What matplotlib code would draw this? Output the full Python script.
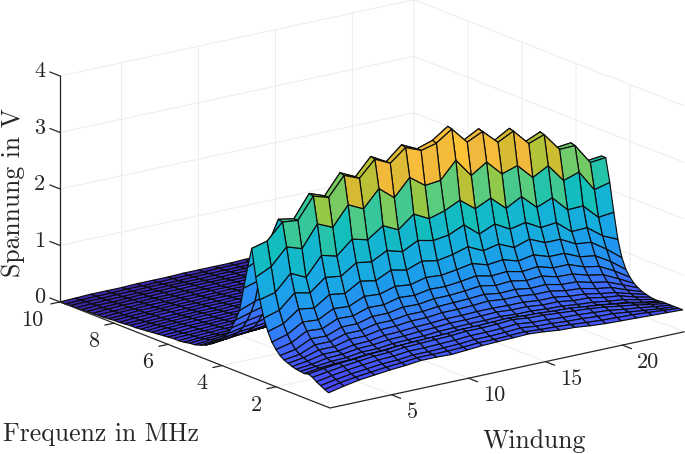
#!/usr/bin/env python3
"""Spannung ueber Windung und Frequenz als Flaechenplot"""

import numpy as np
import matplotlib

matplotlib.use("Agg")
import matplotlib.pyplot as plt
from matplotlib.colors import LinearSegmentedColormap, Normalize
from mpl_toolkits.mplot3d import proj3d

windung = list(range(1, 25))

freq_mhz = [0.05, 0.2, 0.35, 0.5, 0.65, 0.8, 0.95, 1.1, 1.25, 1.4, 1.55, 1.7, 1.85, 2.0, 2.15, 2.3, 2.45, 2.6, 2.75, 2.9,
            3.05, 3.2, 3.35, 3.5, 3.65, 3.8, 3.95,
            4.2, 4.4, 4.6, 4.8, 5.0, 5.2, 5.4, 5.6, 5.8, 6.0, 6.2, 6.4, 6.6, 6.8, 7.0, 7.2, 7.4, 7.6, 7.8,
            8.0, 8.2, 8.4, 8.6, 8.8, 9.0, 9.2, 9.4, 9.6, 9.8, 10.0]

# Spannung in cV, eine Zeile je Frequenz, eine Spalte je Windung
spannung_cv = [
    [26, 32, 37, 40, 43, 45, 48, 48, 47, 49, 51, 52, 53, 54, 52, 49, 48, 45, 43, 42, 41, 40, 39, 38],
    [29, 35, 39, 42, 45, 47, 50, 50, 50, 51, 53, 53, 54, 55, 53, 52, 50, 48, 46, 45, 44, 42, 40, 38],
    [33, 38, 42, 45, 48, 49, 52, 52, 53, 54, 56, 56, 57, 59, 56, 55, 53, 52, 50, 49, 46, 43, 40, 38],
    [37, 42, 46, 49, 52, 53, 56, 56, 57, 58, 60, 60, 61, 63, 60, 59, 57, 56, 54, 52, 48, 45, 41, 38],
    [42, 46, 50, 53, 56, 57, 60, 61, 62, 63, 65, 65, 66, 68, 65, 64, 62, 60, 58, 55, 51, 47, 42, 38],
    [45, 49, 52, 54, 57, 58, 61, 62, 63, 64, 66, 66, 67, 68, 66, 65, 63, 62, 59, 56, 52, 48, 42, 38],
    [43, 47, 49, 50, 53, 54, 56, 57, 58, 59, 60, 61, 61, 62, 61, 60, 58, 58, 54, 53, 49, 46, 40, 37],
    [44, 47, 50, 51, 55, 55, 58, 59, 60, 62, 63, 64, 64, 65, 63, 63, 61, 60, 57, 55, 51, 48, 42, 37],
    [45, 48, 53, 54, 58, 59, 62, 63, 65, 66, 68, 68, 69, 70, 68, 68, 65, 65, 61, 60, 55, 52, 44, 38],
    [47, 51, 57, 57, 62, 63, 67, 68, 70, 71, 73, 73, 74, 74, 73, 73, 70, 70, 66, 64, 59, 55, 47, 40],
    [50, 54, 62, 62, 69, 69, 74, 75, 78, 78, 81, 81, 82, 84, 81, 81, 78, 78, 73, 71, 65, 61, 51, 42],
    [53, 57, 68, 68, 76, 76, 82, 82, 86, 86, 89, 90, 91, 93, 89, 90, 86, 87, 81, 80, 73, 68, 57, 46],
    [58, 63, 76, 75, 85, 85, 92, 92, 97, 96, 100, 100, 102, 105, 100, 102, 97, 99, 92, 91, 83, 78, 65, 51],
    [66, 72, 87, 85, 97, 96, 105, 104, 111, 109, 114, 113, 116, 120, 114, 116, 110, 113, 105, 105, 95, 90, 76, 59],
    [76, 84, 100, 98, 112, 110, 122, 120, 128, 125, 132, 130, 134, 139, 131, 134, 126, 131, 122, 122, 110, 106, 90, 70],
    [92, 100, 120, 116, 134, 130, 146, 141, 154, 148, 158, 153, 158, 166, 153, 159, 147, 156, 144, 144, 130, 127, 109, 88],
    [113, 121, 146, 140, 162, 158, 176, 172, 186, 178, 192, 186, 190, 202, 180, 192, 177, 183, 168, 171, 149, 150, 130, 118],
    [143, 150, 178, 165, 198, 191, 215, 208, 227, 214, 236, 222, 230, 243, 222, 235, 211, 226, 201, 212, 185, 186, 160, 163],
    [180, 193, 222, 213, 251, 239, 273, 260, 290, 268, 298, 278, 281, 311, 278, 296, 269, 278, 251, 266, 234, 243, 206, 213],
    [228, 235, 263, 260, 297, 289, 322, 311, 339, 326, 348, 337, 344, 363, 334, 347, 322, 336, 308, 318, 286, 287, 251, 254],
    [192, 205, 265, 260, 299, 289, 324, 311, 341, 326, 350, 337, 346, 365, 334, 349, 322, 338, 308, 320, 286, 289, 251, 254],
    [152, 160, 178, 190, 200, 205, 220, 225, 240, 235, 250, 245, 250, 260, 245, 250, 235, 240, 220, 225, 200, 195, 170, 170],
    [110, 120, 130, 140, 150, 155, 165, 170, 180, 180, 190, 190, 190, 200, 190, 190, 180, 185, 170, 170, 150, 145, 125, 125],
    [90, 98, 105, 115, 120, 125, 130, 135, 140, 140, 148, 148, 150, 155, 148, 148, 140, 142, 130, 130, 118, 112, 98, 95],
    [73, 80, 85, 92, 95, 100, 105, 108, 112, 112, 118, 118, 120, 122, 118, 118, 112, 112, 104, 102, 94, 90, 78, 76],
    [60, 66, 70, 76, 78, 82, 86, 88, 92, 92, 96, 96, 98, 100, 96, 96, 92, 92, 86, 84, 78, 74, 64, 62],
    [50, 55, 58, 62, 65, 68, 70, 72, 75, 76, 78, 78, 80, 82, 78, 78, 76, 76, 70, 68, 64, 60, 54, 52],
    [38, 42, 45, 48, 50, 52, 54, 56, 58, 58, 60, 60, 62, 62, 60, 60, 58, 58, 54, 52, 50, 48, 44, 42],
    [31, 34, 37, 39, 41, 43, 44, 46, 47, 48, 49, 49, 50, 51, 50, 49, 48, 47, 45, 44, 42, 40, 37, 35],
    [25, 28, 31, 33, 34, 36, 37, 38, 39, 40, 41, 41, 42, 42, 41, 41, 40, 39, 37, 36, 35, 33, 31, 29],
    [21, 24, 26, 28, 29, 30, 31, 33, 33, 34, 35, 35, 36, 36, 35, 35, 34, 33, 32, 31, 30, 28, 26, 25],
    [18, 21, 23, 24, 25, 26, 27, 28, 29, 29, 30, 30, 31, 31, 30, 30, 29, 29, 28, 27, 26, 24, 23, 22],
    [17, 19, 20, 22, 22, 24, 24, 25, 26, 26, 27, 27, 28, 28, 27, 27, 26, 26, 25, 24, 23, 22, 20, 19],
    [15, 17, 18, 19, 20, 21, 22, 23, 23, 24, 24, 25, 25, 25, 25, 24, 24, 23, 22, 22, 21, 20, 18, 17],
    [14, 16, 17, 18, 19, 20, 20, 21, 22, 22, 23, 23, 23, 24, 23, 23, 22, 22, 21, 20, 19, 18, 17, 16],
    [14, 15, 16, 17, 18, 19, 19, 20, 20, 21, 21, 22, 22, 22, 21, 21, 21, 20, 20, 19, 18, 17, 16, 15],
    [13, 14, 15, 16, 17, 17, 18, 19, 19, 20, 20, 20, 20, 21, 20, 20, 20, 19, 18, 18, 17, 16, 15, 14],
    [12, 13, 15, 15, 16, 17, 17, 18, 18, 19, 19, 19, 20, 20, 19, 19, 18, 18, 18, 17, 16, 15, 14, 13],
    [11, 13, 14, 14, 15, 16, 16, 17, 17, 18, 18, 18, 19, 19, 18, 18, 18, 17, 17, 16, 15, 15, 14, 13],
    [10, 12, 13, 14, 14, 15, 15, 16, 16, 17, 17, 17, 18, 18, 17, 17, 17, 16, 16, 15, 15, 14, 13, 12],
    [9, 11, 12, 13, 14, 14, 15, 15, 15, 16, 16, 16, 17, 17, 16, 16, 16, 15, 15, 15, 14, 13, 13, 12],
    [8, 10, 11, 12, 13, 13, 14, 14, 14, 15, 15, 16, 16, 16, 15, 15, 15, 15, 14, 14, 13, 13, 12, 11],
    [7, 9, 10, 11, 12, 12, 13, 13, 14, 14, 14, 15, 15, 15, 15, 14, 14, 14, 14, 13, 13, 12, 11, 11],
    [7, 8, 9, 10, 11, 12, 12, 13, 13, 13, 14, 14, 14, 14, 14, 14, 13, 13, 13, 13, 12, 12, 11, 10],
    [6, 7, 9, 10, 10, 11, 11, 12, 12, 13, 13, 13, 13, 14, 13, 13, 13, 12, 12, 12, 11, 11, 10, 10],
    [5, 7, 8, 9, 10, 10, 11, 11, 11, 12, 12, 12, 13, 13, 12, 12, 12, 12, 11, 11, 11, 10, 10, 9],
    [5, 6, 7, 8, 9, 9, 10, 10, 11, 11, 11, 11, 12, 12, 12, 11, 11, 11, 11, 10, 10, 10, 9, 9],
    [4, 5, 7, 7, 8, 9, 9, 9, 10, 10, 10, 11, 11, 11, 11, 11, 10, 10, 10, 10, 9, 9, 9, 8],
    [3, 5, 6, 7, 7, 8, 8, 9, 9, 9, 10, 10, 10, 10, 10, 10, 10, 9, 9, 9, 9, 8, 8, 8],
    [3, 4, 5, 6, 7, 7, 8, 8, 8, 9, 9, 9, 9, 10, 9, 9, 9, 9, 8, 8, 8, 8, 7, 7],
    [2, 4, 5, 5, 6, 6, 7, 7, 8, 8, 8, 8, 9, 9, 8, 8, 8, 8, 8, 7, 7, 7, 7, 6],
    [2, 3, 4, 5, 5, 6, 6, 7, 7, 7, 7, 8, 8, 8, 8, 8, 7, 7, 7, 7, 6, 6, 6, 6],
    [1, 3, 3, 4, 5, 5, 6, 6, 6, 6, 7, 7, 7, 7, 7, 7, 7, 6, 6, 6, 6, 6, 5, 5],
    [1, 2, 3, 3, 4, 4, 5, 5, 5, 6, 6, 6, 6, 7, 6, 6, 6, 6, 6, 5, 5, 5, 5, 5],
    [1, 2, 2, 3, 3, 4, 4, 4, 5, 5, 5, 5, 6, 6, 6, 5, 5, 5, 5, 5, 4, 4, 4, 4],
    [0, 1, 2, 2, 3, 3, 3, 4, 4, 4, 5, 5, 5, 5, 5, 5, 4, 4, 4, 4, 4, 4, 3, 3],
    [0, 1, 2, 2, 2, 3, 3, 3, 4, 4, 4, 4, 5, 5, 4, 4, 4, 4, 3, 3, 3, 3, 3, 3],
]

windung_ticks = [5, 10, 15, 20]
freq_ticks = [2, 4, 6, 8, 10]
spannung_ticks = [0, 1, 2, 3, 4]

WIDTH, HEIGHT = 685, 454
WLIM = (1, 24)
FLIM = (0, 10)
ZLIM = (0, 4)
VMAX = 3.8

GRID = "#ececec"
AXIS = "#262626"

# Farben, Stuetzstellen in Volt
stops = [
    (0.0, "#3e26a8"), (0.1, "#4137d7"), (0.3, "#4848f8"), (0.7, "#4068fc"),
    (1.0, "#2d86f7"), (1.4, "#1e9aed"), (1.66, "#19a8e3"), (2.02, "#14b2d7"),
    (2.43, "#12c0b8"), (2.8, "#5ccc7c"), (3.0, "#9cc840"), (3.2, "#d2bc30"),
    (3.35, "#f0b83c"), (3.65, "#ffc337"), (3.8, "#fafa14"),
]
cmap = LinearSegmentedColormap.from_list("bild", [(v / VMAX, c) for v, c in stops])

plt.rcParams["font.family"] = "cmr10"
plt.rcParams["axes.unicode_minus"] = False

fig = plt.figure(figsize=(WIDTH / 100, HEIGHT / 100), dpi=100)
# Axes groesser als die Figur, sonst schneidet mplot3d am Quadrat ab
ax = fig.add_axes([-1, -1, 3, 3], projection="3d", proj_type="ortho", computed_zorder=False)
ax.view_init(elev=16.9, azim=-126.5)
ax.set_xlim(*WLIM)
ax.set_ylim(*FLIM)
ax.set_zlim(*ZLIM)
ax.set_axis_off()
ax.patch.set_alpha(0)


def to_px(x, y, z):
    """Datenpunkt nach Bildpixel, y von oben gezaehlt"""
    px, py, _ = proj3d.proj_transform(x, y, z, ax.get_proj())
    px, py = ax.transData.transform((px, py))
    return px, HEIGHT - py


# Box so skalieren und schieben, dass die Ecken auf den Bildpixeln liegen
aspect = (440.4, 453.9, 236.2)
ax.set_box_aspect(aspect, zoom=1.0)
fig.canvas.draw()
x0 = to_px(WLIM[0], 0, 0)
x1 = to_px(WLIM[1], 0, 0)
ax.set_box_aspect(aspect, zoom=354.0 / (x1[0] - x0[0]))
fig.canvas.draw()
x0 = to_px(WLIM[0], 0, 0)
ax.set_position([-1 + (330 - x0[0]) / WIDTH, -1 + (x0[1] - 408) / HEIGHT, 3, 3])
fig.canvas.draw()

# Gitter auf Boden und Rueckwaenden
for w in windung_ticks:
    ax.plot([w, w, w], [0, 10, 10], [0, 0, 4], color=GRID, lw=0.7, zorder=1)
for f in freq_ticks:
    ax.plot([1, 24, 24], [f, f, f], [0, 0, 4], color=GRID, lw=0.7, zorder=1)
for z in spannung_ticks:
    ax.plot([1, 24, 24], [10, 10, 0], [z, z, z], color=GRID, lw=0.7, zorder=1)

# Zeilen von hoher zu tiefer Frequenz, die Facette nimmt die Farbe der hinteren Ecke
W, F = np.meshgrid(windung, freq_mhz[::-1])
Z = np.array(spannung_cv, dtype=float)[::-1] / 100.0
ax.plot_surface(W, F, Z, rstride=1, cstride=1, facecolors=cmap(Normalize(0, VMAX)(Z)),
                edgecolor="#0c0c0c", linewidth=0.85, shade=False, antialiased=True, zorder=2)

# Achsen und Ticks
ax.plot([1, 1, 24], [10, 0, 0], [0, 0, 0], color=AXIS, lw=0.9, zorder=3)
ax.plot([1, 1], [10, 10], [0, 4], color=AXIS, lw=0.9, zorder=3)
for w in windung_ticks:
    ax.plot([w, w], [0, -0.33], [0, 0], color=AXIS, lw=0.9, zorder=3)
for f in freq_ticks:
    ax.plot([1, 0.42], [f, f], [0, 0], color=AXIS, lw=0.9, zorder=3)
for z in spannung_ticks:
    ax.plot([1, 1], [10, 10.37], [z, z], color=AXIS, lw=0.9, zorder=3)


def label(px, py, text, **kw):
    fig.text(px / WIDTH, 1 - py / HEIGHT, text, ha=kw.pop("ha", "center"), va="center", **kw)


for w in windung_ticks:
    px, py = to_px(w, 0, 0)
    label(px + (21 if w < 10 else 26), py + 17.5, str(w), fontsize=16, color=AXIS)
for f in freq_ticks:
    px, py = to_px(1, f, 0)
    label(px - (28 if f == 10 else 20), py + 18, str(f), fontsize=16, color=AXIS)
for z in spannung_ticks:
    px, py = to_px(1, 10, z)
    label(px - 15, py - 4.5, str(z), fontsize=16, color=AXIS, ha="right")

label(101, 434, "Frequenz in MHz", fontsize=18.5, color=AXIS)
label(534, 441, "Windung", fontsize=18.5, color=AXIS)
label(13, 193, "Spannung in V", fontsize=18.5, color=AXIS, rotation=90)

fig.savefig("out.png", dpi=100)
